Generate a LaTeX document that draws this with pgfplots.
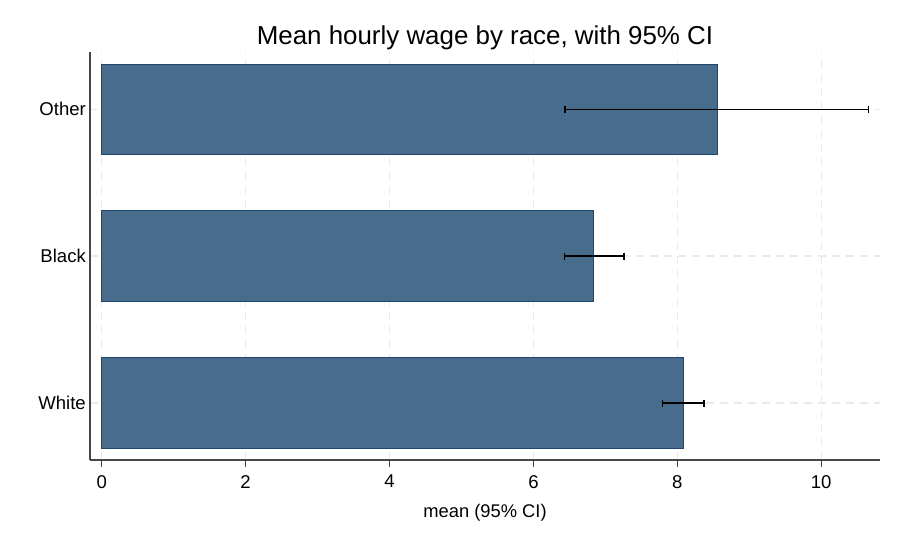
\documentclass[border=0pt]{standalone}
\usepackage{pgfplots}
\pgfplotsset{compat=1.18}
\usepackage{fontspec}
\setmainfont{Liberation Sans}
\definecolor{barfill}{RGB}{72,108,140}
\definecolor{baredge}{RGB}{30,70,110}
\definecolor{gridc}{RGB}{234,234,234}
\definecolor{axc}{RGB}{70,70,70}
\begin{document}
\begin{tikzpicture}[x=1bp,y=1bp]
\useasboundingbox (0,0) rectangle (900,540);
\begin{axis}[
  at={(90bp,80bp)}, anchor=south west,
  scale only axis, width=790bp, height=408bp,
  xmin=-0.163, xmax=10.817,
  ymin=0.612, ymax=3.39,
  axis x line*=bottom, axis y line*=left,
  axis line style={axc, line width=1.1bp, -},
  xtick={0,2,4,6,8,10},
  ytick={1,2,3},
  yticklabels={White,Black,Other},
  tick align=outside,
  x tick style={axc, line width=1.1bp},
  major tick length=7bp,
  y tick style={draw=none},
  ymajorgrids, xmajorgrids,
  grid style={gridc, line width=1.4bp, dash pattern=on 8bp off 6bp},
  /pgf/number format/assume math mode=true,
  ticklabel style={font=\fontsize{18.6}{22}\selectfont},
  xticklabel style={inner sep=2bp, yshift=-6bp},
  yticklabel style={inner sep=5bp, xshift=8bp},
  xlabel={mean (95\% CI)},
  xlabel style={font=\fontsize{18.4}{22}\selectfont, yshift=-10bp},
  title={Mean hourly wage by race, with 95\% CI},
  title style={font=\fontsize{26}{30}\selectfont, yshift=-7bp},
]
\addplot[xbar, bar width=0.616, fill=barfill, draw=baredge, line width=0.8bp]
  coordinates {(8.08,1) (6.84,2) (8.55,3)};
\addplot[draw=none, mark=none,
  error bars/.cd, x dir=both, x explicit, error mark=|,
  error bar style={draw=black, line width=1.5bp},
  error mark options={draw=black, mark size=3.5bp, line width=1.3bp}]
  table[x=m, y=y, x error plus=ep, x error minus=em] {
  m    y   ep    em
  8.08 1   0.29  0.29
  6.845 2  0.415 0.415
  8.55 3   2.11  2.11
};
\end{axis}
\end{tikzpicture}
\end{document}
